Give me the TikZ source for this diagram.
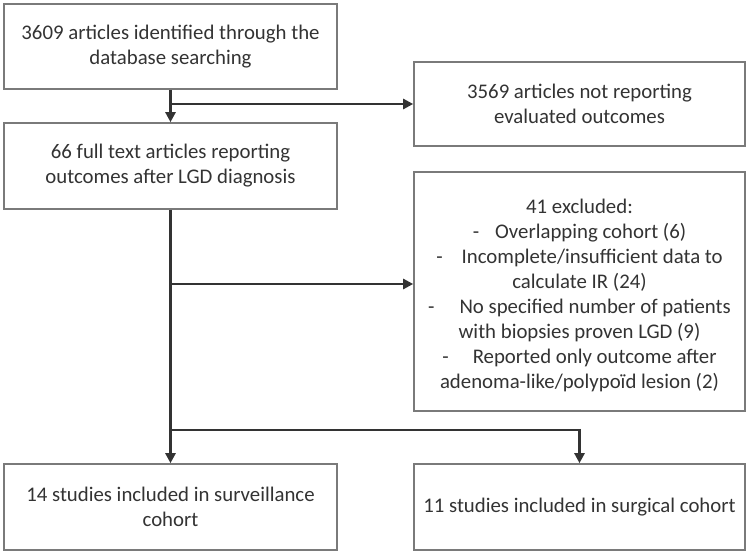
\documentclass[tikz,border=0pt]{standalone}
\usepackage{fontspec}
\setmainfont{Carlito}
\usetikzlibrary{arrows.meta}
\definecolor{boxline}{HTML}{7A7A7A}
\definecolor{arrline}{HTML}{333333}
\definecolor{txt}{HTML}{333333}
\begin{document}
\begin{tikzpicture}[x=1pt,y=-1pt,
  flowbox/.style={draw=boxline, line width=1.6pt, fill=white, inner sep=0pt,
    minimum width=333pt, align=center, text=txt,
    font=\fontsize{20.8}{25}\selectfont},
  boxtext/.style={inner sep=0pt, align=center, text=txt,
    font=\fontsize{20.8}{25}\selectfont},
  conn/.style={draw=arrline, line width=2.4pt, -{Triangle[length=10pt,width=10pt]}},
  plain/.style={draw=arrline, line width=2.4pt}]
\useasboundingbox (0,0) rectangle (750,556);
\fill[white] (0,0) rectangle (750,556);

\node[flowbox, minimum height=85pt] (b1) at (170.5,46.5)
  {3609 articles identified through the\\database searching};
\node[flowbox, minimum width=331pt, minimum height=84pt] (b2) at (579.5,104)
  {3569 articles not reporting\\evaluated outcomes};
\node[flowbox, minimum height=86pt] (b3) at (170.5,166)
  {66 full text articles reporting\\outcomes after LGD diagnosis};
\node[flowbox, minimum width=331pt, minimum height=239pt] (b4) at (579.5,291.5) {};
\node[boxtext] (b4t) at (579.5,295.5)
  {41 excluded:\\
   -\hspace{16pt}Overlapping cohort (6)\\
   -\hspace{19pt}Incomplete/insufficient data to\\
   calculate IR (24)\\
   -\hspace{25pt}No specified number of patients\\
   with biopsies proven LGD (9)\\
   -\hspace{24pt}Reported only outcome after\\
   adenoma-like/polypoïd lesion (2)};
\node[flowbox, minimum height=86pt] (b5) at (170.5,507)
  {14 studies included in surveillance\\cohort};
\node[flowbox, minimum width=331pt, minimum height=86pt] (b6) at (579.5,507)
  {11 studies included in surgical cohort};

\coordinate (j1) at (170.5,104);
\coordinate (j2) at (170.5,284);
\coordinate (j3) at (170.5,430);
\coordinate (k3) at (579.5,430);

\draw[conn] (b1.south) -- (b3.north);
\draw[conn] (j1) -- (j1 -| b2.west);
\draw[conn] (b3.south) -- (b5.north);
\draw[conn] (j2) -- (j2 -| b4.west);
\draw[plain] (j3) -- (k3);
\draw[conn] ([yshift=1.2pt]k3) -- (b6.north);
\end{tikzpicture}
\end{document}
